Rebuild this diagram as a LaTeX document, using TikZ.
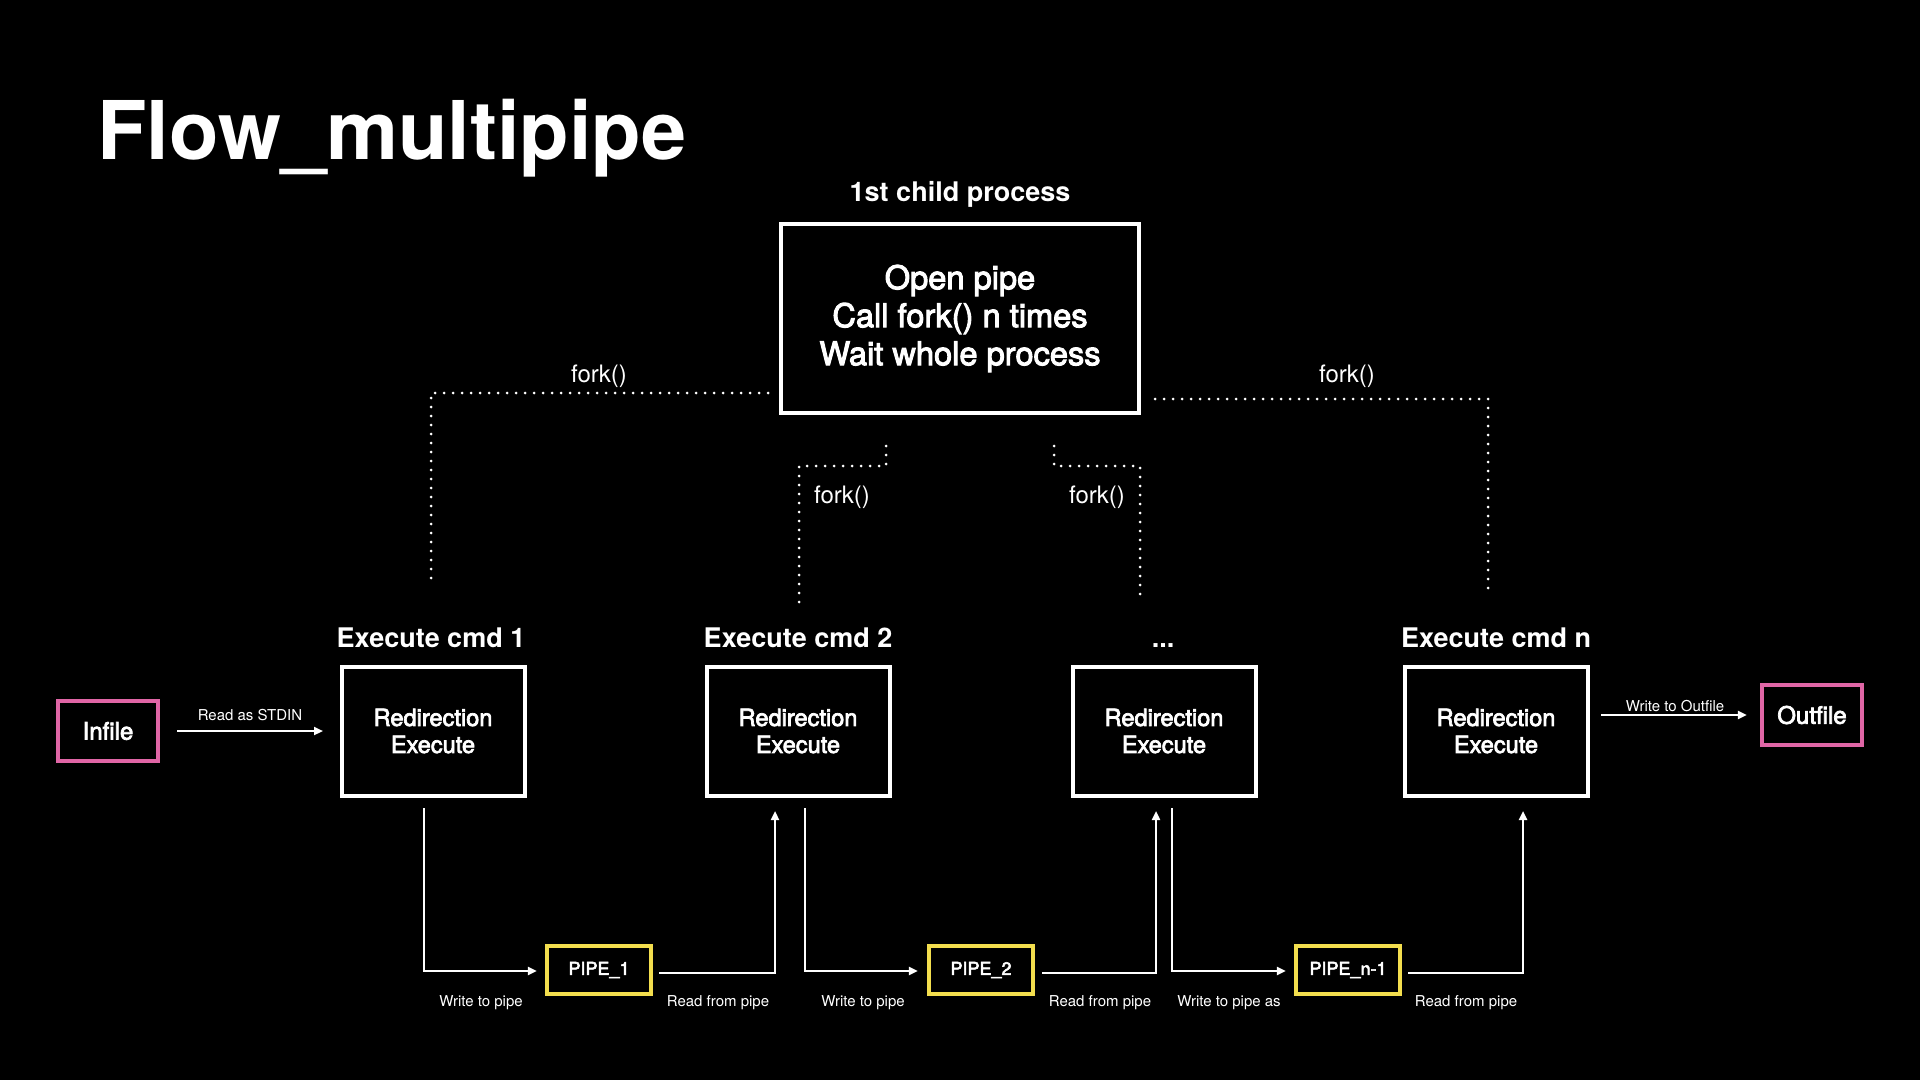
\documentclass[tikz,border=0pt]{standalone}
\usepackage{fontspec}
\setmainfont{TeX Gyre Heros}
\newfontfamily\medfont[FakeBold=3]{TeX Gyre Heros}
\usetikzlibrary{arrows.meta,calc}
\definecolor{pinkc}{RGB}{224,102,166}
\definecolor{yellowc}{RGB}{243,222,78}
\begin{document}
\begin{tikzpicture}[x=0.5pt,y=-0.5pt,
  every node/.append style={text=white},
  topbox/.style={draw=white, line width=2pt, minimum width=179pt, minimum height=94.5pt, inner sep=0pt, align=center, font=\medfont\fontsize{16.3}{19}\selectfont},
  cmdbox/.style={draw=white, line width=2pt, minimum width=91.5pt, minimum height=64.5pt, inner sep=0pt, align=center, font=\medfont\fontsize{11.8}{13.5}\selectfont},
  filebox/.style={draw=pinkc, line width=2.2pt, minimum width=50pt, minimum height=30pt, inner sep=0pt, font=\medfont\fontsize{12}{14}\selectfont},
  pipebox/.style={draw=yellowc, line width=2.2pt, minimum width=52pt, minimum height=24pt, inner sep=0pt, font=\medfont\fontsize{9}{11}\selectfont},
  head/.style={anchor=base, inner sep=0pt, font=\bfseries\fontsize{13.5}{16}\selectfont},
  small/.style={anchor=base, inner sep=0pt, font=\fontsize{7.5}{9}\selectfont},
  forklbl/.style={anchor=base, inner sep=0pt, font=\fontsize{12}{14}\selectfont},
  flow/.style={draw=white, line width=1.1pt, -{Triangle[length=4.5pt,width=4pt]}},
  forkline/.style={draw=white, line width=1.5pt, line cap=round, dash pattern=on 0pt off 4.5pt}
]
\fill[black] (0,0) rectangle (1920,1080);

% title
\node[anchor=base west, inner sep=0pt, font=\bfseries\fontsize{40.5}{48}\selectfont] (title) at (97,160) {Flow\_multipipe};

% top box
\node[head] (ht) at (960,202) {1st child process};
\node[topbox] (top) at (960,318.5) {Open pipe\\Call fork() n times\\Wait whole process};

% command boxes
\node[head] (h1) at (431,647) {Execute cmd 1};
\node[head] (h2) at (798,647) {Execute cmd 2};
\node[head] (h3) at (1163,647) {...};
\node[head] (hn) at (1496,647) {Execute cmd n};
\node[cmdbox] (b1) at (433,731) {Redirection\\Execute};
\node[cmdbox] (b2) at (798,731) {Redirection\\Execute};
\node[cmdbox] (b3) at (1164,731) {Redirection\\Execute};
\node[cmdbox] (bn) at (1496,731) {Redirection\\Execute};

% files
\node[filebox] (infile) at (108,731) {Infile};
\node[filebox] (outfile) at (1812,715) {Outfile};

% pipes
\node[pipebox] (p1) at (599,970) {PIPE\_1};
\node[pipebox] (p2) at (981,970) {PIPE\_2};
\node[pipebox] (p3) at (1348,970) {PIPE\_n-1};

% fork lines
\coordinate (fl1) at (768,393);
\coordinate (fl2) at (431,393);
\coordinate (fl3) at (431,584);
\draw[forkline] (fl1) -- (fl2) -- (fl3);
\coordinate (fr1) at (1155,399);
\coordinate (fr2) at (1488,399);
\coordinate (fr3) at (1488,590);
\draw[forkline] (fr1) -- (fr2) -- (fr3);
\coordinate (fml1) at (886,446);
\coordinate (fml2) at (886,466);
\coordinate (fml3) at (799,466);
\coordinate (fml4) at (799,603);
\draw[forkline] (fml1) -- (fml2) -- (fml3) -- (fml4);
\coordinate (fmr1) at (1054,446);
\coordinate (fmr2) at (1054,466);
\coordinate (fmr3) at (1140,466);
\coordinate (fmr4) at (1140,603);
\draw[forkline] (fmr1) -- (fmr2) -- (fmr3) -- (fmr4);
\node[forklbl] (fk1) at (599,382) {fork()};
\node[forklbl] (fk2) at (1347,382) {fork()};
\node[forklbl] (fk3) at (842,503) {fork()};
\node[forklbl] (fk4) at (1097,503) {fork()};

% file arrows
\draw[flow] ($(infile.east)+(17,0)$) -- ($(b1.west)+(-16.5,0)$);
\node[small] (lin) at (250,720) {Read as STDIN};
\draw[flow] ($(bn.east |- outfile.west)+(11.5,0)$) -- ($(outfile.west)+(-13,0)$);
\node[small] (lout) at (1675,711) {Write to Outfile};

% pipe arrows
\draw[flow] ($(b1.south)+(-9,10.5)$) |- ($(p1.west)+(-8,1)$);
\draw[flow] ($(p1.east)+(6,3)$) -| ($(b2.south)+(-23,13.5)$);
\draw[flow] ($(b2.south)+(7,10.5)$) |- ($(p2.west)+(-9,1)$);
\draw[flow] ($(p2.east)+(7,3)$) -| ($(b3.south)+(-8,13.5)$);
\draw[flow] ($(b3.south)+(8,10.5)$) |- ($(p3.west)+(-8,1)$);
\draw[flow] ($(p3.east)+(6,3)$) -| ($(bn.south)+(27,13.5)$);

\node[small] (w1) at (481,1006) {Write to pipe};
\node[small] (r1) at (718,1006) {Read from pipe};
\node[small] (w2) at (863,1006) {Write to pipe};
\node[small] (r2) at (1100,1006) {Read from pipe};
\node[small] (w3) at (1229,1006) {Write to pipe as};
\node[small] (r3) at (1466,1006) {Read from pipe};
\end{tikzpicture}
\end{document}
